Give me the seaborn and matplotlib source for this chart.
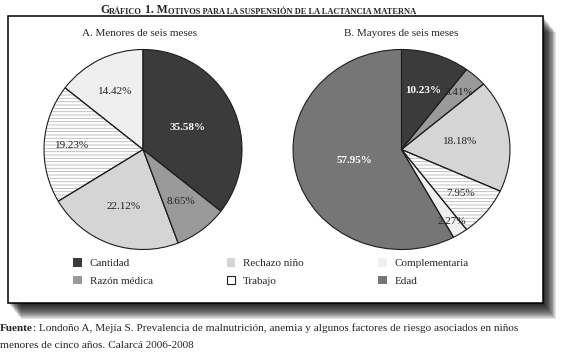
import numpy as np
import matplotlib
matplotlib.use("Agg")
import matplotlib.pyplot as plt
from matplotlib.patches import Rectangle, Patch
import seaborn as sns

# data
categories = ["Cantidad", "Razón médica", "Rechazo niño", "Trabajo", "Complementaria", "Edad"]
menores = [35.58, 8.65, 22.12, 19.23, 14.42]
mayores = [10.23, 3.41, 18.18, 7.95, 2.27, 57.95]
colors = ["#3b3b3b", "#9a9a9a", "#d5d5d5", "#ffffff", "#efefef", "#767676"]
hatches = ["", "", "", "-----", "", ""]
white_labels = ["Cantidad", "Edad"]

sns.set_style("white")
plt.rcParams["font.family"] = ["Liberation Serif", "DejaVu Serif"]
plt.rcParams["hatch.linewidth"] = 0.6

W, H = 561, 356
fig = plt.figure(figsize=(W / 100, H / 100), dpi=100)


def fx(x):
    return x / W


def fy(y):
    return 1 - y / H


# frame with blurred shadow
bx0, by0, bx1, by1 = 8, 16, 543, 303
for k in range(1, 17):
    fig.add_artist(Rectangle((fx(bx0 + k * 0.8), fy(by1 + k)), fx(bx1 - bx0), (by1 - by0) / H,
                             transform=fig.transFigure, facecolor="black", edgecolor="none",
                             alpha=0.1, zorder=-3))
fig.add_artist(Rectangle((fx(bx0), fy(by1)), fx(bx1 - bx0), (by1 - by0) / H,
                         transform=fig.transFigure, facecolor="white", edgecolor="black",
                         linewidth=1.1, zorder=-2))


def pie_axes(cx, cy, rx, ry, m=1.03):
    return fig.add_axes([fx(cx - rx * m), fy(cy + ry * m), fx(2 * rx * m), 2 * ry * m / H])


def draw_pie(ax, values, names, dists):
    cols = [colors[categories.index(n)] for n in names]
    hs = [hatches[categories.index(n)] for n in names]
    wedges, _ = ax.pie(values, colors=cols, startangle=90, counterclock=False,
                       wedgeprops=dict(edgecolor="#b8b8b8", linewidth=0))
    for w, h in zip(wedges, hs):
        w.set_hatch(h)
    # outlines drawn separately so the hatch stays light grey
    ax.pie(values, startangle=90, counterclock=False,
           wedgeprops=dict(fill=False, edgecolor="#1e1e1e", linewidth=0.8))
    for w, v, n, d in zip(wedges, values, names, dists):
        mid = np.deg2rad((w.theta1 + w.theta2) / 2)
        white = n in white_labels
        ax.text(d * np.cos(mid), d * np.sin(mid), f"{v:.2f}%", ha="center", va="center",
                fontsize=8, color="white" if white else "#222222",
                fontweight="bold" if white else "normal")
    ax.set_aspect("auto")
    ax.set_xlim(-1.03, 1.03)
    ax.set_ylim(-1.03, 1.03)
    ax.axis("off")


ax_a = pie_axes(143, 149.5, 99, 100)
draw_pie(ax_a, menores, categories[:5], [0.5, 0.65, 0.6, 0.72, 0.64])

ax_b = pie_axes(401.5, 149.5, 108.5, 100)
draw_pie(ax_b, mayores, categories, [0.62, 0.78, 0.55, 0.7, 0.86, 0.45])

fig.text(fx(140), fy(34), "A. Menores de seis meses", ha="center", va="center", fontsize=8)
fig.text(fx(401), fy(34), "B. Mayores de seis meses", ha="center", va="center", fontsize=8)

# title in small caps
parts = [("G", 8.5), ("RÁFICO", 6.0), (" 1. M", 8.5),
         ("OTIVOS PARA LA SUSPENSIÓN DE LA LACTANCIA MATERNA", 6.0)]
prev = fig.text(fx(100), fy(13), parts[0][0], fontsize=parts[0][1], fontweight="bold",
                va="baseline", ha="left")
for txt, size in parts[1:]:
    prev = plt.annotate(txt, xy=(1, 0), xycoords=prev, va="bottom", ha="left",
                        fontsize=size, fontweight="bold", annotation_clip=False)

# legend
handles = []
for n, c, h in zip(categories, colors, hatches):
    if n == "Trabajo":
        handles.append(Patch(facecolor="white", edgecolor="#222222", hatch="-", linewidth=0.8, label=n))
    else:
        handles.append(Patch(facecolor=c, edgecolor="none", label=n))
fig.legend(handles=handles, ncol=3, loc="upper left", bbox_to_anchor=(fx(63), fy(248)),
           frameon=False, fontsize=8, handlelength=0.8, handleheight=0.8,
           handletextpad=0.7, columnspacing=6.65, labelspacing=0.7)

# source note
src = fig.text(0, fy(331), "Fuente", fontsize=8.1, fontweight="bold", va="baseline")
plt.annotate(": Londoño A, Mejía S. Prevalencia de malnutrición, anemia y algunos factores de riesgo asociados en niños",
             xy=(1, 0), xycoords=src, va="bottom", ha="left", fontsize=8.1, annotation_clip=False)
fig.text(0, fy(348), "menores de cinco años. Calarcá 2006-2008", fontsize=8.1, va="baseline")

fig.savefig("out.png", dpi=100)
